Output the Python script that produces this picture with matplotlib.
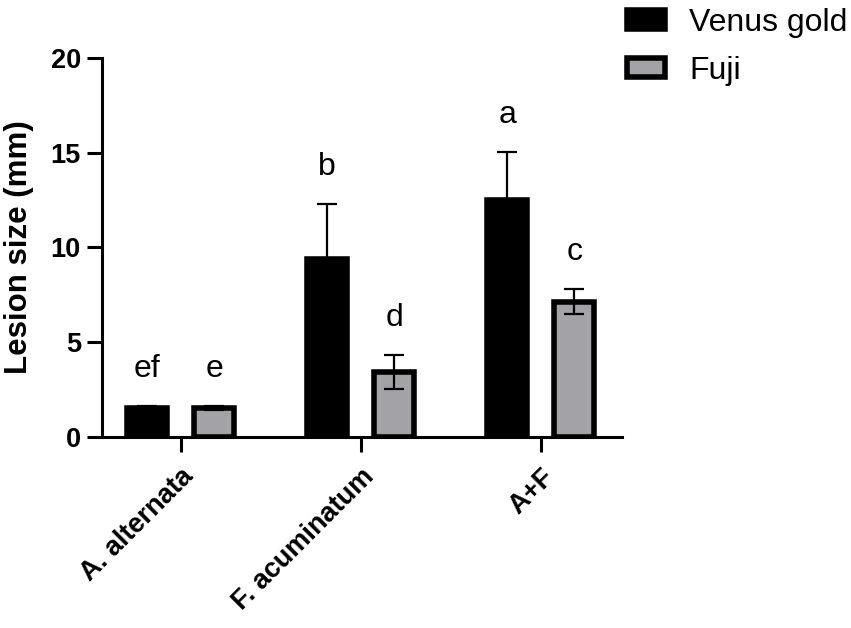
import matplotlib.pyplot as plt
import matplotlib.transforms as mtransforms
import numpy as np
from matplotlib.patches import Patch

# Data
grupos = ['A. alternata', 'F. acuminatum', 'A+F']
venus_gold = [1.5, 9.4, 12.5]
venus_err = [0.1, 2.9, 2.55]
fuji = [1.5, 3.43, 7.14]
fuji_err = [0.1, 0.89, 0.67]
letras_venus = ['ef', 'b', 'a']
letras_fuji = ['e', 'd', 'c']

plt.rcParams['font.family'] = ['Liberation Sans', 'DejaVu Sans']

fig = plt.figure(figsize=(8.51, 6.28), dpi=100)
ax = fig.add_axes([0.1195, 0.3046, 0.6115, 0.6026])

x = np.arange(len(grupos))
ancho = 0.222
desp = 0.186
gris = '#a3a3a7'

# Bars with error bars
ax.bar(x - desp, venus_gold, ancho, color='black', edgecolor='black', linewidth=4, zorder=1)
ax.bar(x + desp, fuji, ancho, color=gris, edgecolor='black', linewidth=4, zorder=1)
ax.errorbar(x - desp, venus_gold, yerr=venus_err, fmt='none', ecolor='black',
            elinewidth=1.6, capsize=7.5, capthick=1.6, zorder=2)
ax.errorbar(x + desp, fuji, yerr=fuji_err, fmt='none', ecolor='black',
            elinewidth=1.6, capsize=7.5, capthick=1.6, zorder=2)

# Significance letters
for i in range(len(grupos)):
    ax.text(x[i] - desp, venus_gold[i] + venus_err[i] + 1.55, letras_venus[i],
            ha='center', va='baseline', fontsize=23)
    ax.text(x[i] + desp, fuji[i] + fuji_err[i] + 1.55, letras_fuji[i],
            ha='center', va='baseline', fontsize=23)

ax.set_xlim(-0.439, 2.452)
ax.set_ylim(0, 20)
ax.set_yticks([0, 5, 10, 15, 20])
ax.set_xticks(x)
ax.set_xticklabels(grupos, rotation=45, ha='right', rotation_mode='anchor',
                   fontsize=19.5, fontweight='bold')
# shift the rotated labels a little to the left
desplazar = mtransforms.ScaledTranslation(-6 / 100, 0, fig.dpi_scale_trans)
for lab in ax.get_xticklabels():
    lab.set_transform(lab.get_transform() + desplazar)
for lab in ax.get_yticklabels():
    lab.set_fontsize(19.5)
    lab.set_fontweight('bold')

ax.spines['top'].set_visible(False)
ax.spines['right'].set_visible(False)
ax.spines['left'].set_linewidth(2.2)
ax.spines['bottom'].set_linewidth(2.2)
ax.tick_params(axis='both', direction='out', width=2.2, length=11)
ax.tick_params(axis='y', pad=4)
ax.tick_params(axis='x', pad=8.5)

ax.set_ylabel('Lesion size (mm)', fontsize=22.5, fontweight='bold', labelpad=12)

# Legend outside the plot
handles = [Patch(facecolor='black', edgecolor='black', linewidth=4),
           Patch(facecolor=gris, edgecolor='black', linewidth=4)]
fig.legend(handles, ['Venus gold', 'Fuji'], loc='upper left',
           bbox_to_anchor=(0.727, 1.0), frameon=False, fontsize=23,
           handlelength=1.2, handleheight=0.55, handletextpad=0.75,
           labelspacing=0.55, borderpad=0.25, borderaxespad=0)

fig.savefig('out.png', dpi=100)
